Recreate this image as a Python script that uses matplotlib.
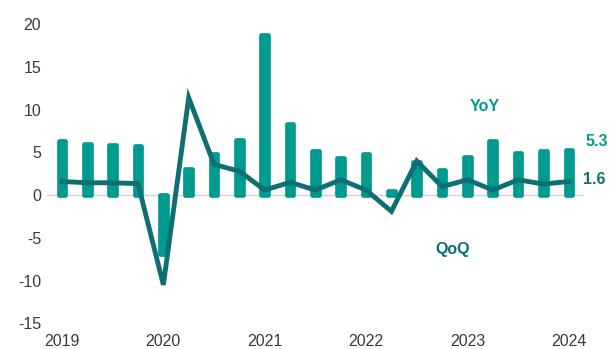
"""China GDP growth: YoY bars with QoQ line, 2019Q1-2024Q1."""
import matplotlib.pyplot as plt
import numpy as np

plt.rcParams["font.family"] = ["Liberation Sans", "DejaVu Sans"]

quarters = ["2019Q1", "2019Q2", "2019Q3", "2019Q4",
            "2020Q1", "2020Q2", "2020Q3", "2020Q4",
            "2021Q1", "2021Q2", "2021Q3", "2021Q4",
            "2022Q1", "2022Q2", "2022Q3", "2022Q4",
            "2023Q1", "2023Q2", "2023Q3", "2023Q4",
            "2024Q1"]
yoy = [6.3, 6.0, 5.9, 5.8, -6.9, 3.1, 4.8, 6.4, 18.7, 8.3, 5.2, 4.4,
       4.8, 0.5, 3.9, 2.9, 4.5, 6.3, 4.9, 5.2, 5.3]
qoq = [1.6, 1.45, 1.45, 1.35, -10.5, 11.4, 3.6, 2.8, 0.6, 1.5, 0.6, 1.8,
       0.6, -1.9, 4.0, 1.0, 1.8, 0.6, 1.8, 1.3, 1.6]
year_labels = ["2019", "2020", "2021", "2022", "2023", "2024"]
y_ticks = [-15, -10, -5, 0, 5, 10, 15, 20]

BAR = "#009b8f"
LINE = "#0e6e73"
TEXT = "#3a3a3a"

x = np.arange(len(quarters))

fig = plt.figure(figsize=(6.10, 3.49), dpi=100)
ax = fig.add_axes([46.8 / 610, 25.7 / 349, (584 - 46.8) / 610, (324 - 25) / 349])

ax.axhline(0, color="#d4d4d4", lw=1, zorder=0)
# thick same-colour edge with round joins gives the soft rounded bar ends
ax.bar(x, yoy, width=0.26, color=BAR, edgecolor=BAR, lw=3.4,
       joinstyle="round", zorder=2)
ax.plot(x, qoq, color=LINE, lw=3.5, solid_joinstyle="miter", zorder=3)

ax.set_xlim(-0.6, 20.6)
ax.set_ylim(-15, 20)
ax.set_yticks(y_ticks)
ax.set_yticklabels([str(t) for t in y_ticks])
ax.set_xticks(x[::4])
ax.set_xticklabels(year_labels)
ax.tick_params(axis="both", length=0, labelsize=11.5, colors=TEXT)
ax.tick_params(axis="y", pad=4)
ax.tick_params(axis="x", pad=8)
for spine in ax.spines.values():
    spine.set_visible(False)

ax.text(16.7, 10.4, "YoY", color=BAR, fontsize=11.5, fontweight="bold",
        ha="center", va="center")
ax.text(15.4, -6.4, "QoQ", color=LINE, fontsize=11.5, fontweight="bold",
        ha="center", va="center")
ax.text(20.65, 6.3, f"{yoy[-1]:.1f}", color=BAR, fontsize=11.5,
        fontweight="bold", ha="left", va="center", clip_on=False)
ax.text(20.55, 1.8, f"{qoq[-1]:.1f}", color=LINE, fontsize=11.5,
        fontweight="bold", ha="left", va="center", clip_on=False)

fig.savefig("out.png", dpi=100)
plt.close(fig)
